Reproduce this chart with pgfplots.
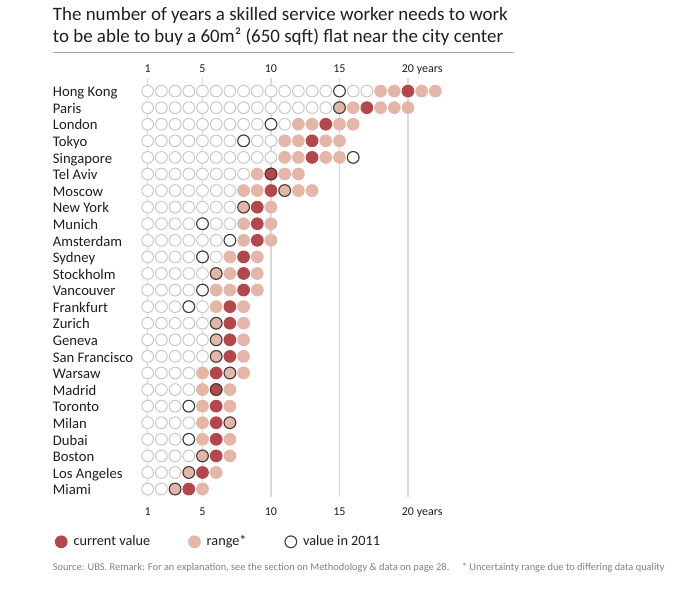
\documentclass[border=0pt]{standalone}
\usepackage{fontspec}
\setmainfont{Carlito}
\usepackage{pgfplots}
\pgfplotsset{compat=1.18}
\definecolor{cred}{HTML}{B3474A}
\definecolor{cpink}{HTML}{E3B6A7}
\definecolor{cgrid}{HTML}{DADADA}
\definecolor{cempty}{HTML}{C8C8C8}
\definecolor{cdark}{HTML}{3A3A3A}
\definecolor{csrc}{HTML}{808080}
\definecolor{ctext}{HTML}{1E1E1E}
\definecolor{crule}{HTML}{A6A6A6}
\begin{document}
\begin{tikzpicture}
\path (0pt,0pt) rectangle (510pt,-450pt);
\node[anchor=base west, inner sep=0pt, text=ctext, font=\fontsize{14.2}{17}\selectfont] at (39.5pt,-15.5pt) {The number of years a skilled service worker needs to work};
\node[anchor=base west, inner sep=0pt, text=ctext, font=\fontsize{14.2}{17}\selectfont] at (39.5pt,-32pt) {to be able to buy a 60m² (650 sqft) flat near the city center};
\draw[crule, line width=0.75pt] (39.5pt,-39.5pt) -- (385.5pt,-39.5pt);
\node[anchor=base west, inner sep=0pt, text=csrc, font=\fontsize{7.8}{9}\selectfont] at (39.5pt,-427.5pt) {Source: UBS. Remark: For an explanation, see the section on Methodology \& data on page 28.\hspace{1.2em}* Uncertainty range due to differing data quality};
\begin{axis}[
  at={(100.5pt,-373pt)}, anchor=south west,
  scale only axis, width=236.3pt, height=314.4pt,
  xmin=0, xmax=23, ymin=0.22, ymax=25.5, y dir=reverse,
  clip=false,
  axis line style={draw=none},
  major tick length=0pt,
  xmajorgrids, grid style={cgrid, line width=1.1pt},
  xtick={1,5,10,15,20},
  xticklabels={1,5,10,15,{20\rlap{\ years}}},
  xticklabel style={anchor=base, yshift=-13.8pt, inner sep=0pt, text=ctext, font=\fontsize{9}{11}\selectfont},
  ytick={1,...,25},
  yticklabels={Hong Kong,Paris,London,Tokyo,Singapore,Tel Aviv,Moscow,New York,Munich,Amsterdam,Sydney,Stockholm,Vancouver,Frankfurt,Zurich,Geneva,San Francisco,Warsaw,Madrid,Toronto,Milan,Dubai,Boston,Los Angeles,Miami},
  yticklabel style={anchor=base west, xshift=-61pt, yshift=-4.3pt, inner sep=0pt, text=ctext, font=\fontsize{11}{13}\selectfont},
  legend columns=3,
  legend style={at={(axis description cs:-0.258,-0.106)}, anchor=west, draw=none, fill=none, inner sep=0pt,
    font=\fontsize{10.7}{12}\selectfont, text=ctext,
    /tikz/every even column/.append style={column sep=25pt}},
  legend cell align=left,
  legend image code/.code={\draw[#1] plot coordinates {(6pt,0pt)}; \path (0pt,0pt) (13pt,0pt);},
]
% empty circles
\addplot[only marks, mark=*, mark size=4.4pt, mark options={draw=cempty, fill=white, line width=0.75pt}, forget plot] coordinates {
(1,1)(2,1)(3,1)(4,1)(5,1)(6,1)(7,1)(8,1)(9,1)(10,1)(11,1)(12,1)(13,1)(14,1)(15,1)(16,1)(17,1)
(1,2)(2,2)(3,2)(4,2)(5,2)(6,2)(7,2)(8,2)(9,2)(10,2)(11,2)(12,2)(13,2)(14,2)
(1,3)(2,3)(3,3)(4,3)(5,3)(6,3)(7,3)(8,3)(9,3)(10,3)(11,3)
(1,4)(2,4)(3,4)(4,4)(5,4)(6,4)(7,4)(8,4)(9,4)(10,4)
(1,5)(2,5)(3,5)(4,5)(5,5)(6,5)(7,5)(8,5)(9,5)(10,5)(16,5)
(1,6)(2,6)(3,6)(4,6)(5,6)(6,6)(7,6)(8,6)
(1,7)(2,7)(3,7)(4,7)(5,7)(6,7)(7,7)
(1,8)(2,8)(3,8)(4,8)(5,8)(6,8)(7,8)
(1,9)(2,9)(3,9)(4,9)(5,9)(6,9)(7,9)
(1,10)(2,10)(3,10)(4,10)(5,10)(6,10)(7,10)
(1,11)(2,11)(3,11)(4,11)(5,11)(6,11)
(1,12)(2,12)(3,12)(4,12)(5,12)
(1,13)(2,13)(3,13)(4,13)(5,13)
(1,14)(2,14)(3,14)(4,14)(5,14)
(1,15)(2,15)(3,15)(4,15)(5,15)
(1,16)(2,16)(3,16)(4,16)(5,16)
(1,17)(2,17)(3,17)(4,17)(5,17)
(1,18)(2,18)(3,18)(4,18)
(1,19)(2,19)(3,19)(4,19)
(1,20)(2,20)(3,20)(4,20)
(1,21)(2,21)(3,21)(4,21)
(1,22)(2,22)(3,22)(4,22)
(1,23)(2,23)(3,23)(4,23)
(1,24)(2,24)(3,24)
(1,25)(2,25)
};
% current value
\addplot[only marks, mark=*, mark size=4.4pt, mark options={draw=cred, fill=cred, line width=0.75pt}] coordinates {
(20,1)(17,2)(14,3)(13,4)(13,5)(10,6)(10,7)(9,8)(9,9)(9,10)(8,11)(8,12)(8,13)(7,14)(7,15)(7,16)(7,17)(6,18)(6,19)(6,20)(6,21)(6,22)(6,23)(5,24)(4,25)
};
\addlegendentry{current value}
% range
\addplot[only marks, mark=*, mark size=4.4pt, mark options={draw=cpink, fill=cpink, line width=0.75pt}] coordinates {
(18,1)(19,1)(21,1)(22,1)
(15,2)(16,2)(18,2)(19,2)(20,2)
(12,3)(13,3)(15,3)(16,3)
(11,4)(12,4)(14,4)(15,4)
(11,5)(12,5)(14,5)(15,5)
(9,6)(11,6)(12,6)
(8,7)(9,7)(11,7)(12,7)(13,7)
(8,8)(10,8)
(8,9)(10,9)
(8,10)(10,10)
(7,11)(9,11)
(6,12)(7,12)(9,12)
(6,13)(7,13)(9,13)
(6,14)(8,14)
(6,15)(8,15)
(6,16)(8,16)
(6,17)(8,17)
(5,18)(7,18)(8,18)
(5,19)(7,19)
(5,20)(7,20)
(5,21)(7,21)
(5,22)(7,22)
(5,23)(7,23)
(4,24)(6,24)
(3,25)(5,25)
};
\addlegendentry{range*}
% value in 2011
\addplot[only marks, mark=o, mark size=4.4pt, mark options={draw=cdark, line width=0.8pt}] coordinates {
(15,1)(15,2)(10,3)(8,4)(16,5)(10,6)(11,7)(8,8)(5,9)(7,10)(5,11)(6,12)(5,13)(4,14)(6,15)(6,16)(6,17)(7,18)(6,19)(4,20)(7,21)(4,22)(5,23)(4,24)(3,25)
};
\addlegendentry{value in 2011}
\node[anchor=base, yshift=4pt, inner sep=0pt, text=ctext, font=\fontsize{9}{11}\selectfont] at (axis cs:1,0.22) {1};
\node[anchor=base, yshift=4pt, inner sep=0pt, text=ctext, font=\fontsize{9}{11}\selectfont] at (axis cs:5,0.22) {5};
\node[anchor=base, yshift=4pt, inner sep=0pt, text=ctext, font=\fontsize{9}{11}\selectfont] at (axis cs:10,0.22) {10};
\node[anchor=base, yshift=4pt, inner sep=0pt, text=ctext, font=\fontsize{9}{11}\selectfont] at (axis cs:15,0.22) {15};
\node[anchor=base, yshift=4pt, inner sep=0pt, text=ctext, font=\fontsize{9}{11}\selectfont] at (axis cs:20,0.22) {20\rlap{\ years}};
\end{axis}
\end{tikzpicture}
\end{document}
